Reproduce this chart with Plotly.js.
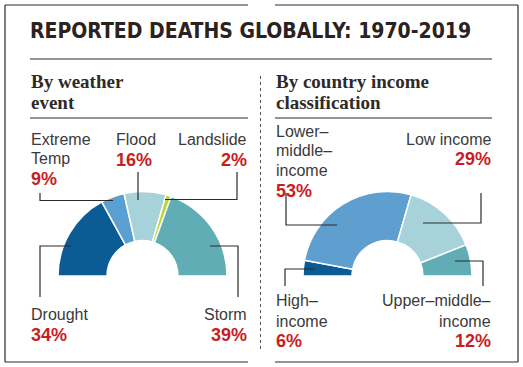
<!DOCTYPE html>
<html>
<head>
<meta charset="utf-8">
<script src="https://cdn.plot.ly/plotly-3.0.1.min.js"></script>
<style>html,body{margin:0;padding:0;background:#fff;}#chart{width:523px;height:367px;}</style>
</head>
<body>
<div id="chart"></div>
<script>
// ---- data ----
var weatherEvents = ["Drought", "Extreme Temp", "Flood", "Landslide", "Storm"];
var weatherShares = [34, 9, 16, 2, 39];
var incomeGroups = ["High-income", "Lower-middle-income", "Low income", "Upper-middle-income"];
var incomeShares = [6, 53, 29, 12];

var chartTitle = "REPORTED DEATHS GLOBALLY: 1970-2019";
var leftSubtitle = ["By weather", "event"];
var rightSubtitle = ["By country income", "classification"];

// ---- styling ----
var W = 523, H = 367;
function px(x) { return x / W; }
function py(y) { return 1 - y / H; }
var weatherColors = ["#0b5c94", "#5a9fd1", "#a8d2da", "#b9d63a", "#61adb6"];
var incomeColors = ["#0b5c94", "#5e9fcf", "#a8d2da", "#61adb6"];
var RED = "#c81e23";
var DARK = "#2e2a28";
var TXT = "#3a3a3a";
var R = 84.5;

function halfDonut(labels, values, colors, cx, cy) {
  var total = values.reduce(function (a, b) { return a + b; }, 0);
  var lc = colors.map(function () { return "#ffffff"; });
  lc.push("rgba(0,0,0,0)");
  return {
    type: "pie",
    labels: labels.concat(["_hidden"]),
    values: values.concat([total]),
    sort: false,
    direction: "clockwise",
    rotation: -90,
    hole: 0.42,
    textinfo: "none",
    hoverinfo: "skip",
    showlegend: false,
    marker: { colors: colors.concat(["rgba(0,0,0,0)"]), line: { color: lc, width: 1.5 } },
    domain: { x: [px(cx - R), px(cx + R)], y: [py(cy + R), py(cy - R)] }
  };
}

var traces = [
  halfDonut(weatherEvents, weatherShares, weatherColors, 142.5, 276),
  halfDonut(incomeGroups, incomeShares, incomeColors, 387.5, 276)
];

var annotations = [];
function txt(text, x, baseline, anchor, size, color, family, weight) {
  annotations.push({
    text: text, xref: "paper", yref: "paper", x: px(x), y: py(baseline - 0.35 * size),
    xanchor: anchor, yanchor: "middle", showarrow: false, borderpad: 0,
    font: { size: size, color: color, family: family, weight: weight || "normal" }
  });
}
var SANS = "Liberation Sans, Arial, sans-serif";
var SERIF = "Liberation Serif, Times New Roman, serif";
function lab(t, x, b, a) { txt(t, x, b, a, 16, TXT, SANS); }
function pct(v, x, b, a) { txt(v + "%", x, b, a, 18, RED, SANS, "bold"); }

// subtitles
txt(leftSubtitle[0], 30, 88, "left", 19, DARK, SERIF, "bold");
txt(leftSubtitle[1], 30, 109, "left", 19, DARK, SERIF, "bold");
txt(rightSubtitle[0], 275, 88, "left", 19, DARK, SERIF, "bold");
txt(rightSubtitle[1], 275, 109, "left", 19, DARK, SERIF, "bold");

// left labels
lab("Extreme", 30, 145, "left"); lab("Temp", 30, 164, "left"); pct(weatherShares[1], 30, 185, "left");
lab(weatherEvents[2], 115, 145, "left"); pct(weatherShares[2], 115, 166, "left");
lab(weatherEvents[3], 248, 145, "right"); pct(weatherShares[3], 248, 166, "right");
lab(weatherEvents[0], 30, 320, "left"); pct(weatherShares[0], 30, 341, "left");
lab(weatherEvents[4], 248, 320, "right"); pct(weatherShares[4], 248, 341, "right");

// right labels
lab("Lower–", 275, 137, "left"); lab("middle–", 275, 156, "left"); lab("income", 275, 176, "left");
pct(incomeShares[1], 275, 197, "left");
lab(incomeGroups[2], 492, 145, "right"); pct(incomeShares[2], 492, 165, "right");
lab("High–", 275, 306, "left"); lab("income", 275, 327, "left"); pct(incomeShares[0], 275, 347, "left");
lab("Upper–middle–", 492, 306, "right"); lab("income", 492, 327, "right"); pct(incomeShares[3], 492, 347, "right");

// shapes
var shapes = [];
function line(x0, y0, x1, y1, w, dash, color) {
  shapes.push({ type: "line", xref: "paper", yref: "paper", x0: px(x0), y0: py(y0), x1: px(x1), y1: py(y1),
    line: { color: color || DARK, width: w || 1, dash: dash || "solid" } });
}
function poly(pts) {
  var d = pts.map(function (p, i) { return (i ? "L" : "M") + px(p[0]) + "," + py(p[1]); }).join(" ");
  shapes.push({ type: "path", xref: "paper", yref: "paper", path: d, line: { color: DARK, width: 1.2 } });
}
// frame
line(5, 5, 248, 5, 1.2); line(275, 5, 518, 5, 1.2);
line(5, 5, 5, 362, 1.2); line(518, 5, 518, 362, 1.2);
line(5, 362, 248, 362, 1.2); line(275, 362, 518, 362, 1.2);
// separators
line(30, 59, 492, 59, 1.2);
line(30, 118, 248, 118, 1.2); line(275, 118, 492, 118, 1.2);
line(260.5, 76, 260.5, 349, 1, "dot", "#555");
// leaders left
poly([[40, 193], [40, 200.5], [113, 200.5]]);
poly([[138, 172], [138, 200]]);
poly([[237, 172], [237, 199.5], [165, 199.5]]);
poly([[71, 246], [40, 246], [40, 297]]);
poly([[210, 246], [238, 246], [238, 297]]);
// leaders right
poly([[286, 193], [286, 225], [337, 225]]);
poly([[481, 193], [481, 223], [423, 223]]);
poly([[315, 269], [285, 269], [285, 286]]);
poly([[455, 261], [483, 261], [483, 286]]);

var layout = {
  width: W, height: H,
  margin: { l: 0, r: 0, t: 0, b: 0 },
  paper_bgcolor: "#ffffff",
  title: {
    text: chartTitle, xref: "paper", yref: "paper", x: px(30), xanchor: "left",
    y: py(37.5 - 0.35 * 21), yanchor: "middle",
    font: { family: "DejaVu Sans Condensed, sans-serif", weight: "bold", size: 21, color: "#2b2220" }
  },
  annotations: annotations,
  shapes: shapes
};

Plotly.newPlot("chart", traces, layout, { displayModeBar: false, staticPlot: true });
</script>
</body>
</html>
